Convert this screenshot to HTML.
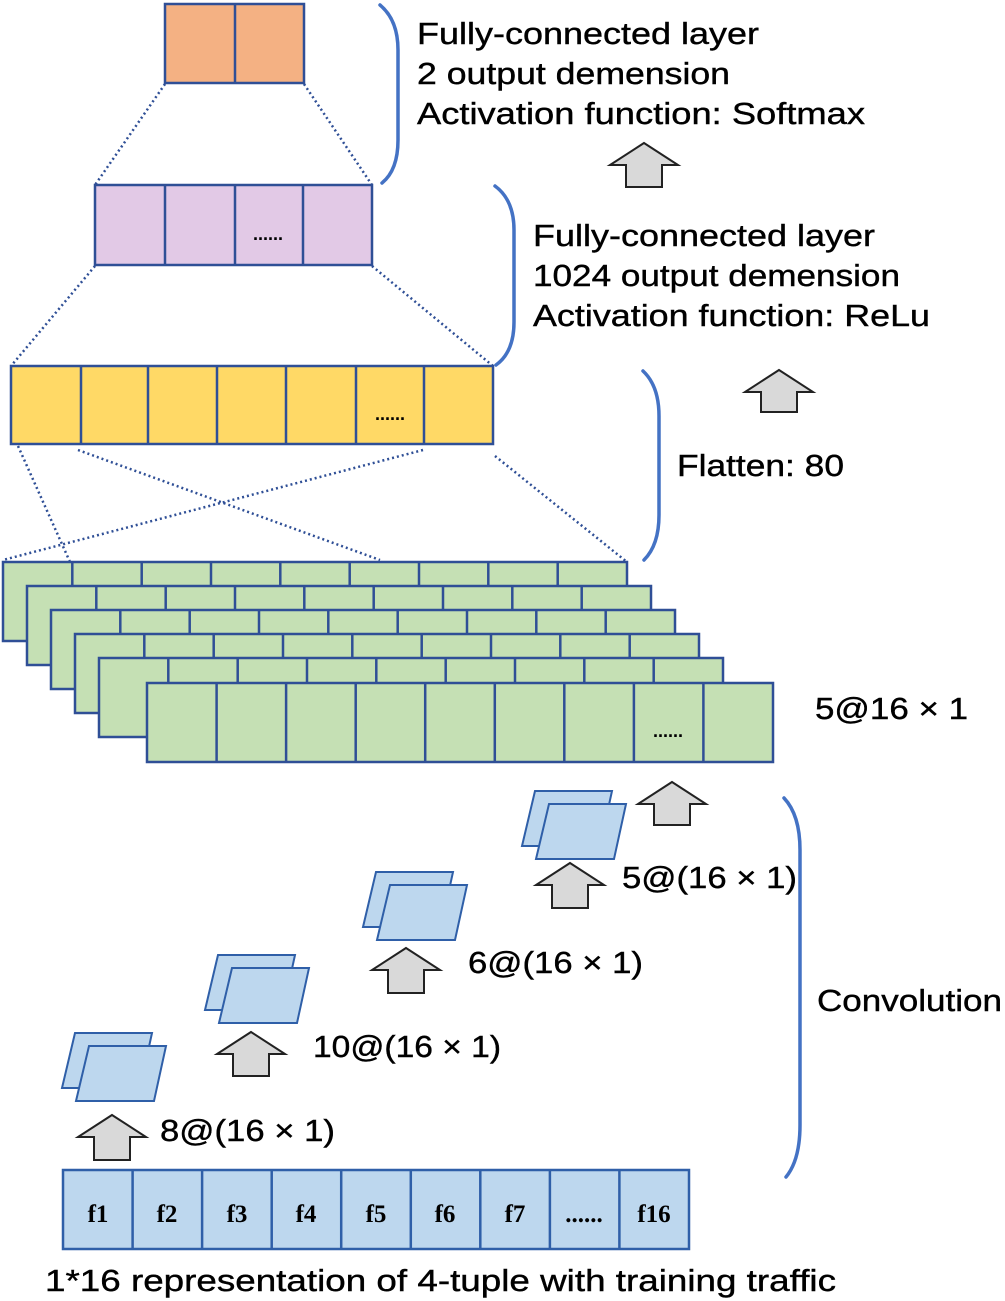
<!DOCTYPE html>
<html><head><meta charset="utf-8"><style>
html,body{margin:0;padding:0;background:#fff;}
svg{display:block;}
text{font-family:"Liberation Sans",sans-serif;fill:#000;}
</style></head><body>
<svg width="1005" height="1301" viewBox="0 0 1005 1301" xmlns="http://www.w3.org/2000/svg">
<g stroke="#2f4f96" stroke-width="2.5" stroke-dasharray="2,3" fill="none">
<line x1="165" y1="84" x2="95" y2="185"/>
<line x1="304" y1="84" x2="372" y2="185"/>
<line x1="95" y1="266" x2="11" y2="366"/>
<line x1="372" y1="266" x2="493" y2="366"/>
<line x1="18" y1="446" x2="70" y2="562"/>
<line x1="78" y1="450" x2="380" y2="560"/>
<line x1="423" y1="450" x2="3" y2="560"/>
<line x1="495" y1="456" x2="627" y2="562"/>
</g>
<g stroke="#2f4f96" stroke-width="2.5">
<rect x="165" y="4" width="139" height="79" fill="#f4b183"/>
<line x1="235" y1="4" x2="235" y2="83"/>
<rect x="95" y="185" width="277" height="80" fill="#e2c9e6"/>
<path d="M165 185v80M235 185v80M303 185v80"/>
<rect x="11" y="366" width="482" height="78" fill="#ffd966"/>
<path d="M81 366v78M148 366v78M217 366v78M286 366v78M356 366v78M424 366v78"/>
</g>
<text x="268" y="240" font-size="18" font-weight="bold" text-anchor="middle">......</text>
<text x="390" y="420" font-size="18" font-weight="bold" text-anchor="middle">......</text>
<g stroke="#2f4f96" stroke-width="2.5" fill="#c5e0b4">
<rect x="3" y="562" width="624" height="79"/>
<path d="M72.3 562v79M141.7 562v79M211 562v79M280.3 562v79M349.7 562v79M419 562v79M488.3 562v79M557.7 562v79"/>
<rect x="27" y="586" width="624" height="79"/>
<path d="M96.3 586v79M165.7 586v79M235 586v79M304.3 586v79M373.7 586v79M443 586v79M512.3 586v79M581.7 586v79"/>
<rect x="51" y="610" width="624" height="79"/>
<path d="M120.3 610v79M189.7 610v79M259 610v79M328.3 610v79M397.7 610v79M467 610v79M536.3 610v79M605.7 610v79"/>
<rect x="75" y="634" width="624" height="79"/>
<path d="M144.3 634v79M213.7 634v79M283 634v79M352.3 634v79M421.7 634v79M491 634v79M560.3 634v79M629.7 634v79"/>
<rect x="99" y="658" width="624" height="79"/>
<path d="M168.3 658v79M237.7 658v79M307 658v79M376.3 658v79M445.7 658v79M515 658v79M584.3 658v79M653.7 658v79"/>
<rect x="147" y="683" width="626" height="79"/>
<path d="M216.6 683v79M286.1 683v79M355.7 683v79M425.2 683v79M494.8 683v79M564.3 683v79M633.9 683v79M703.4 683v79"/>
</g>
<text x="668" y="737" font-size="18" font-weight="bold" text-anchor="middle">......</text>
<g stroke="#2f5fa8" stroke-width="2" fill="#bdd7ee">
<polygon points="75,1033 152,1033 140,1088 62,1088"/>
<polygon points="89,1046 166,1046 154,1101 76,1101"/>
<polygon points="218,955 295,955 283,1010 205,1010"/>
<polygon points="232,968 309,968 297,1023 219,1023"/>
<polygon points="376,872 453,872 441,927 363,927"/>
<polygon points="390,885 467,885 455,940 377,940"/>
<polygon points="535,791 612,791 600,846 522,846"/>
<polygon points="549,804 626,804 614,859 536,859"/>
</g>
<g stroke="#222" stroke-width="2" fill="#d9d9d9">
<polygon points="112,1115 146,1137 130,1137 130,1160 94,1160 94,1137 78,1137"/>
<polygon points="251,1032 285,1054 269,1054 269,1076 233,1076 233,1054 217,1054"/>
<polygon points="406,948 440,970 424,970 424,993 388,993 388,970 372,970"/>
<polygon points="570,863 604,885 588,885 588,908 552,908 552,885 536,885"/>
<polygon points="672,782 706,804 690,804 690,825 654,825 654,804 638,804"/>
<polygon points="779,370 813,392 797,392 797,412 761,412 761,392 745,392"/>
<polygon points="644,143 678,165 662,165 662,187 626,187 626,165 610,165"/>
</g>
<g stroke="#4472c4" stroke-width="3.5" fill="none" stroke-linecap="round">
<path d="M380 5 Q398 20 398 50 L398 140 Q398 170 382 183"/>
<path d="M495 186 Q514 200 514 230 L514 322 Q514 352 496 365"/>
<path d="M643 371 Q659 386 659 416 L659 515 Q659 545 644 560"/>
<path d="M784 798 Q800 815 800 850 L800 1125 Q800 1160 786 1177"/>
</g>
<g stroke="#2f5fa8" stroke-width="2.5" fill="#bdd7ee">
<rect x="63" y="1170" width="626" height="79"/>
<path d="M132.6 1170v79M202.1 1170v79M271.7 1170v79M341.2 1170v79M410.8 1170v79M480.3 1170v79M549.9 1170v79M619.4 1170v79"/>
</g>
<g font-weight="bold" font-size="25" text-anchor="middle">
<text x="98" y="1222" style="font-family:'Liberation Serif',serif">f1</text>
<text x="167" y="1222" style="font-family:'Liberation Serif',serif">f2</text>
<text x="237" y="1222" style="font-family:'Liberation Serif',serif">f3</text>
<text x="306" y="1222" style="font-family:'Liberation Serif',serif">f4</text>
<text x="376" y="1222" style="font-family:'Liberation Serif',serif">f5</text>
<text x="445" y="1222" style="font-family:'Liberation Serif',serif">f6</text>
<text x="515" y="1222" style="font-family:'Liberation Serif',serif">f7</text>
<text x="584" y="1222" style="font-family:'Liberation Serif',serif">......</text>
<text x="654" y="1222" style="font-family:'Liberation Serif',serif">f16</text>
</g>
<g font-size="31" stroke="#000" stroke-width="0.4">
<text x="417" y="44" textLength="342" lengthAdjust="spacingAndGlyphs">Fully-connected layer</text>
<text x="417" y="84" textLength="313" lengthAdjust="spacingAndGlyphs">2 output demension</text>
<text x="417" y="124" textLength="448" lengthAdjust="spacingAndGlyphs">Activation function: Softmax</text>
<text x="533" y="246" textLength="342" lengthAdjust="spacingAndGlyphs">Fully-connected layer</text>
<text x="533" y="286" textLength="367" lengthAdjust="spacingAndGlyphs">1024 output demension</text>
<text x="533" y="326" textLength="397" lengthAdjust="spacingAndGlyphs">Activation function: ReLu</text>
<text x="677" y="476" textLength="167" lengthAdjust="spacingAndGlyphs">Flatten: 80</text>
<text x="815" y="719" textLength="153" lengthAdjust="spacingAndGlyphs">5@16 × 1</text>
<text x="622" y="888" textLength="175" lengthAdjust="spacingAndGlyphs">5@(16 × 1)</text>
<text x="468" y="973" textLength="175" lengthAdjust="spacingAndGlyphs">6@(16 × 1)</text>
<text x="313" y="1057" textLength="188" lengthAdjust="spacingAndGlyphs">10@(16 × 1)</text>
<text x="160" y="1141" textLength="175" lengthAdjust="spacingAndGlyphs">8@(16 × 1)</text>
<text x="817" y="1011" textLength="185" lengthAdjust="spacingAndGlyphs">Convolution</text>
<text x="45" y="1291" textLength="791" lengthAdjust="spacingAndGlyphs">1*16 representation of 4-tuple with training traffic</text>
</g>
</svg>
</body></html>
